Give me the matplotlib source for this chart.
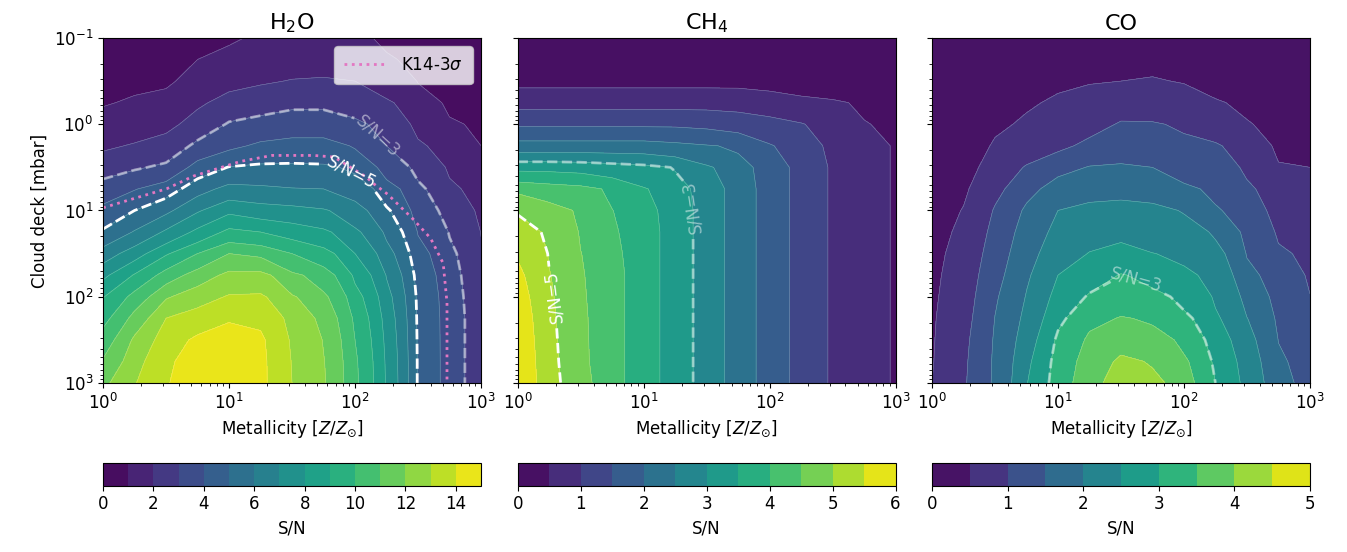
import numpy as np
import matplotlib.pyplot as plt

# =========================================================
# DATA (log-spaced grid)
# =========================================================

metallicity = [1, 1.778, 3.162, 5.623, 10, 17.78, 31.62, 56.23, 100, 177.8, 316.2, 562.3, 1000]
cloud_deck = [0.1, 0.1778, 0.3162, 0.5623, 1, 1.778, 3.162, 5.623, 10, 17.78,
              31.62, 56.23, 100, 177.8, 316.2, 562.3, 1000]

# H2O S/N, one list per metallicity column (cloud deck 0.1 -> 1000 mbar)
h2o_by_metal = [
    [0.35, 0.55, 0.75, 0.95, 1.3, 1.85, 2.6, 3.45, 4.3, 5.15, 6.5, 7.8, 8.95, 9.7, 10.5, 11.1, 11.8],
    [0.45, 0.65, 0.85, 1.1, 1.5, 2.1, 2.9, 3.95, 5.0, 6.1, 7.6, 9.1, 10.4, 11.4, 12.2, 12.7, 12.95],
    [0.6, 0.75, 0.9, 1.25, 1.75, 2.45, 3.2, 4.55, 5.8, 7.2, 8.9, 10.5, 11.9, 13.0, 13.6, 13.85, 13.95],
    [0.75, 1.0, 1.3, 1.85, 2.45, 3.25, 4.45, 5.65, 6.9, 8.3, 10.0, 11.5, 12.6, 13.5, 14.2, 14.5, 14.5],
    [0.9, 1.25, 1.7, 2.4, 3.1, 3.8, 5.05, 6.35, 7.8, 9.3, 11.0, 12.3, 13.1, 13.9, 14.55, 14.7, 14.7],
    [1.15, 1.45, 1.9, 2.6, 3.35, 4.2, 5.2, 6.2, 7.5, 9.0, 10.8, 12.3, 13.15, 13.85, 14.15, 14.2, 14.2],
    [1.3, 1.6, 2.05, 2.8, 3.55, 4.35, 5.2, 6.05, 7.35, 8.6, 10.0, 11.2, 12.1, 12.6, 12.85, 12.95, 13.0],
    [1.35, 1.65, 2.1, 2.8, 3.55, 4.35, 5.15, 6.0, 7.1, 8.2, 9.4, 10.5, 11.2, 11.7, 11.95, 12.05, 12.1],
    [1.15, 1.5, 2.0, 2.6, 3.2, 3.9, 4.8, 5.6, 6.4, 7.2, 8.0, 8.8, 9.4, 9.8, 10.0, 10.15, 10.2],
    [0.85, 1.1, 1.5, 2.15, 2.6, 3.0, 3.55, 4.45, 5.15, 5.8, 6.4, 6.95, 7.35, 7.6, 7.75, 7.85, 7.9],
    [0.55, 0.75, 0.97, 1.35, 1.75, 2.15, 2.75, 3.2, 3.55, 3.95, 4.35, 4.65, 4.8, 4.85, 4.88, 4.9, 4.9],
    [0.3, 0.45, 0.6, 0.85, 1.1, 1.5, 1.85, 2.2, 2.6, 2.95, 3.2, 3.35, 3.45, 3.5, 3.5, 3.5, 3.5],
    [0.2, 0.3, 0.45, 0.65, 0.85, 1.0, 1.3, 1.55, 1.8, 1.98, 2.1, 2.2, 2.25, 2.3, 2.3, 2.3, 2.3],
]

# CH4 S/N, one list per cloud deck row (metallicity 1 -> 1000)
ch4_by_deck = [
    [0.15, 0.15, 0.15, 0.15, 0.15, 0.15, 0.15, 0.15, 0.15, 0.08, 0.05, 0.05, 0.05],
    [0.25, 0.25, 0.25, 0.25, 0.25, 0.25, 0.25, 0.25, 0.25, 0.16, 0.09, 0.05, 0.05],
    [0.38, 0.38, 0.38, 0.38, 0.38, 0.38, 0.38, 0.38, 0.35, 0.26, 0.19, 0.14, 0.09],
    [0.85, 0.85, 0.85, 0.85, 0.85, 0.85, 0.85, 0.83, 0.73, 0.64, 0.57, 0.41, 0.23],
    [1.43, 1.43, 1.43, 1.43, 1.43, 1.43, 1.39, 1.29, 1.19, 1.03, 0.73, 0.53, 0.35],
    [2.22, 2.22, 2.22, 2.22, 2.22, 2.13, 2.03, 1.93, 1.54, 1.18, 0.89, 0.68, 0.45],
    [3.36, 3.36, 3.32, 3.22, 3.13, 2.97, 2.57, 2.17, 1.75, 1.3, 0.93, 0.68, 0.45],
    [4.4, 4.25, 4.15, 3.9, 3.54, 3.18, 2.75, 2.25, 1.75, 1.3, 0.93, 0.68, 0.45],
    [4.96, 4.7, 4.41, 4.01, 3.65, 3.25, 2.75, 2.25, 1.75, 1.3, 0.93, 0.68, 0.45],
    [5.22, 4.9, 4.46, 4.06, 3.7, 3.25, 2.75, 2.25, 1.75, 1.3, 0.93, 0.68, 0.45],
    [5.46, 4.97, 4.51, 4.11, 3.7, 3.25, 2.75, 2.25, 1.75, 1.3, 0.93, 0.68, 0.45],
    [5.6, 5.02, 4.54, 4.15, 3.7, 3.25, 2.75, 2.25, 1.75, 1.3, 0.93, 0.68, 0.45],
    [5.7, 5.06, 4.56, 4.15, 3.7, 3.25, 2.75, 2.25, 1.75, 1.3, 0.93, 0.68, 0.45],
    [5.78, 5.09, 4.58, 4.15, 3.7, 3.25, 2.75, 2.25, 1.75, 1.3, 0.93, 0.68, 0.45],
    [5.83, 5.11, 4.59, 4.15, 3.7, 3.25, 2.75, 2.25, 1.75, 1.3, 0.93, 0.68, 0.45],
    [5.87, 5.13, 4.6, 4.15, 3.7, 3.25, 2.75, 2.25, 1.75, 1.3, 0.93, 0.68, 0.45],
    [5.9, 5.15, 4.65, 4.15, 3.7, 3.25, 2.75, 2.25, 1.75, 1.3, 0.93, 0.68, 0.45],
]

# CO S/N, one list per metallicity column (cloud deck 0.1 -> 1000 mbar)
co_by_metal = [
    [0.1, 0.1, 0.12, 0.15, 0.18, 0.22, 0.26, 0.3, 0.34, 0.37, 0.4, 0.42, 0.44, 0.46, 0.47, 0.48, 0.5],
    [0.1, 0.12, 0.15, 0.2, 0.25, 0.3, 0.36, 0.44, 0.52, 0.6, 0.68, 0.75, 0.8, 0.85, 0.9, 0.93, 0.95],
    [0.15, 0.2, 0.27, 0.35, 0.44, 0.55, 0.7, 0.88, 1.05, 1.17, 1.27, 1.36, 1.45, 1.51, 1.56, 1.59, 1.6],
    [0.2, 0.28, 0.36, 0.46, 0.56, 0.72, 1.05, 1.35, 1.6, 1.75, 1.85, 1.94, 2.03, 2.15, 2.28, 2.4, 2.48],
    [0.28, 0.36, 0.44, 0.56, 0.72, 0.9, 1.35, 1.75, 2.0, 2.15, 2.3, 2.5, 2.7, 2.9, 3.1, 3.22, 3.28],
    [0.35, 0.42, 0.48, 0.65, 0.84, 1.13, 1.53, 1.85, 2.12, 2.33, 2.52, 2.78, 3.06, 3.38, 3.6, 3.75, 3.83],
    [0.38, 0.44, 0.5, 0.78, 1.05, 1.28, 1.56, 1.88, 2.15, 2.38, 2.67, 3.03, 3.27, 3.53, 3.82, 4.1, 4.3],
    [0.38, 0.44, 0.52, 0.77, 1.04, 1.25, 1.5, 1.85, 2.1, 2.3, 2.51, 2.83, 3.15, 3.43, 3.7, 3.95, 4.15],
    [0.35, 0.41, 0.48, 0.7, 0.92, 1.14, 1.33, 1.58, 1.97, 2.2, 2.4, 2.6, 2.85, 3.12, 3.38, 3.58, 3.69],
    [0.3, 0.35, 0.4, 0.53, 0.75, 1.06, 1.25, 1.4, 1.55, 1.93, 2.17, 2.33, 2.44, 2.57, 2.75, 2.9, 3.0],
    [0.22, 0.27, 0.33, 0.42, 0.53, 0.7, 0.9, 1.1, 1.25, 1.35, 1.47, 1.65, 1.85, 2.01, 2.15, 2.25, 2.32],
    [0.15, 0.18, 0.22, 0.27, 0.34, 0.43, 0.53, 0.65, 0.8, 0.94, 1.07, 1.2, 1.31, 1.41, 1.49, 1.58, 1.65],
    [0.12, 0.15, 0.18, 0.23, 0.3, 0.38, 0.5, 0.62, 0.72, 0.8, 0.88, 0.95, 1.01, 1.1, 1.18, 1.24, 1.3],
]

# K14 3-sigma detection limit (H2O panel)
k14_metal = [1, 3.2, 5.2, 12.3, 22, 47, 68, 123, 138, 182, 289, 398, 501, 537, 537]
k14_deck = [9.3, 5.6, 4.0, 2.7, 2.3, 2.3, 2.4, 4.1, 4.8, 6.5, 12.6, 21, 41, 117, 1000]

titles = [r"H$_2$O", r"CH$_4$", "CO"]

# =========================================================
# FIGURE
# =========================================================

M, P = np.meshgrid(metallicity, cloud_deck)
grids = [np.array(h2o_by_metal).T, np.array(ch4_by_deck), np.array(co_by_metal).T]
level_sets = [np.arange(0, 16, 1), np.arange(0, 6.5, 0.5), np.arange(0, 5.5, 0.5)]
cbar_ticks = [np.arange(0, 16, 2), np.arange(0, 7, 1), np.arange(0, 6, 1)]

# labelled S/N lines: (level, alpha, label position)
sn_lines = [
    [(3, 0.5, (150, 1.4)), (5, 1.0, (96, 3.4))],
    [(3, 0.5, (16.7, 9.8)), (5, 1.0, (1.86, 100))],
    [(3, 0.5, (46, 49))],
]

fig = plt.figure(figsize=(13.47, 5.52), dpi=100)
lefts = [0.0765, 0.3843, 0.6919]
width = 0.2806

for i in range(3):
    ax = fig.add_axes([lefts[i], 0.3062, width, 0.625])
    ax.set_xscale("log")
    ax.set_yscale("log")
    ax.set_xlim(1, 1000)
    ax.set_ylim(1000, 0.1)

    Z = grids[i]
    levels = level_sets[i]

    cf = ax.contourf(M, P, Z, levels=levels, cmap="viridis")
    ax.contour(M, P, Z, levels=levels[1:-1], colors="white", linewidths=0.4, alpha=0.35)
    ax.set_xlim(1, 1000)
    ax.set_ylim(1000, 0.1)

    for level, alpha, pos in sn_lines[i]:
        cs = ax.contour(M, P, Z, levels=[level], colors="white", linestyles="--",
                        linewidths=2, alpha=alpha)
        labels = ax.clabel(cs, fmt=lambda v: "S/N=%d" % v, manual=[pos],
                           fontsize=12, inline=True, inline_spacing=4)
        for t in labels:
            t.set_alpha(alpha)
            # vertical labels read bottom-to-top in the reference
            rot = t.get_rotation() % 360
            if 250 < rot < 290:
                t.set_rotation(rot - 180)

    if i == 0:
        ax.plot(k14_metal, k14_deck, ls=":", color="tab:pink", lw=2, label=r"K14-3$\sigma$")
        ax.legend(loc="upper right", fontsize=12, handlelength=2.6, borderpad=0.6)

    ax.set_xlim(1, 1000)
    ax.set_ylim(1000, 0.1)
    ax.set_title(titles[i], fontsize=16)
    ax.set_xlabel(r"Metallicity [$Z/Z_{\odot}$]", fontsize=12)
    ax.tick_params(labelsize=12)
    if i == 0:
        ax.set_ylabel("Cloud deck [mbar]", fontsize=12)
    else:
        ax.tick_params(labelleft=False)

    cax = fig.add_axes([lefts[i], 0.12, width, 0.042])
    cb = fig.colorbar(cf, cax=cax, orientation="horizontal", ticks=cbar_ticks[i])
    cb.set_label("S/N", fontsize=12)
    cb.ax.tick_params(labelsize=12)

fig.savefig("out.png", dpi=100)
